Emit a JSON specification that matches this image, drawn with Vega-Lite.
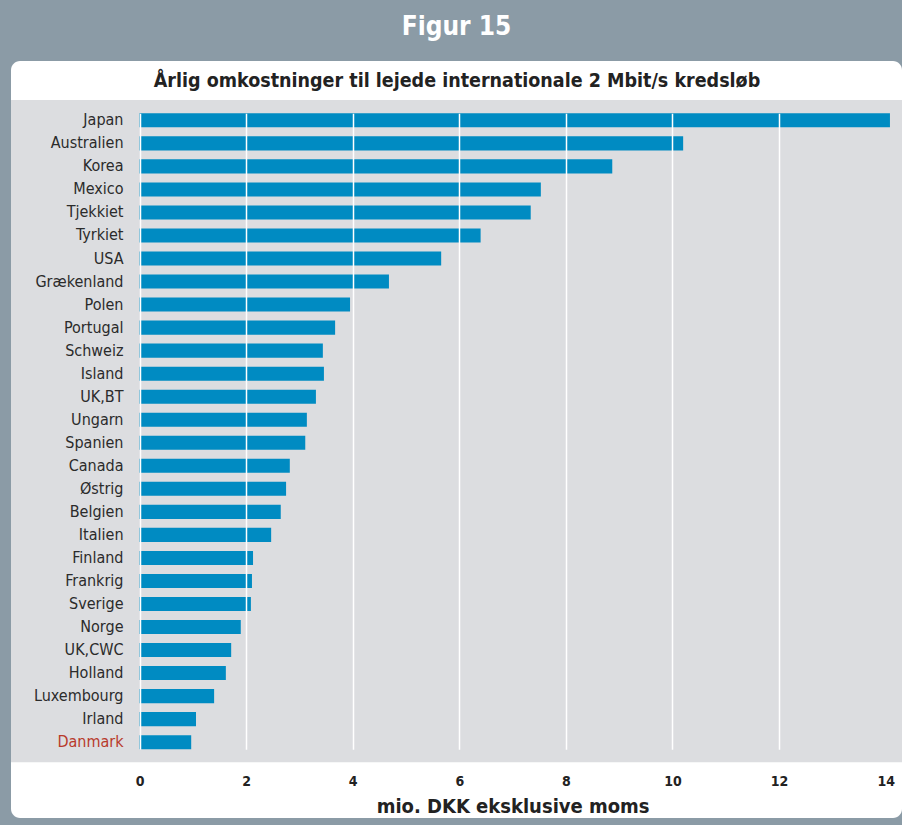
{
  "$schema": "https://vega.github.io/schema/vega-lite/v6.json",
  "width": 891,
  "height": 757,
  "autosize": {"type": "none"},
  "padding": {"left": 11, "top": 61, "right": 0, "bottom": 7},
  "background": "#8b9ba6",
  "config": {
    "view": {"fill": "white", "stroke": null, "cornerRadius": 9},
    "font": "Liberation Sans Narrow, DejaVu Sans Condensed, sans-serif"
  },
  "title": {
    "text": "Figur 15",
    "color": "white",
    "fontSize": 26,
    "fontWeight": "bold",
    "font": "Liberation Sans Narrow, DejaVu Sans Condensed, sans-serif",
    "anchor": "middle",
    "baseline": "alphabetic",
    "offset": 0
  },
  "datasets": {
    "costs": [
      {"country": "Japan", "value": 14.08},
      {"country": "Australien", "value": 10.2},
      {"country": "Korea", "value": 8.87},
      {"country": "Mexico", "value": 7.53},
      {"country": "Tjekkiet", "value": 7.34},
      {"country": "Tyrkiet", "value": 6.4},
      {"country": "USA", "value": 5.66},
      {"country": "Grækenland", "value": 4.68},
      {"country": "Polen", "value": 3.95},
      {"country": "Portugal", "value": 3.67},
      {"country": "Schweiz", "value": 3.44},
      {"country": "Island", "value": 3.46},
      {"country": "UK,BT", "value": 3.31},
      {"country": "Ungarn", "value": 3.14},
      {"country": "Spanien", "value": 3.11},
      {"country": "Canada", "value": 2.82},
      {"country": "Østrig", "value": 2.75},
      {"country": "Belgien", "value": 2.65},
      {"country": "Italien", "value": 2.47},
      {"country": "Finland", "value": 2.13},
      {"country": "Frankrig", "value": 2.11},
      {"country": "Sverige", "value": 2.09},
      {"country": "Norge", "value": 1.9},
      {"country": "UK,CWC", "value": 1.72},
      {"country": "Holland", "value": 1.62},
      {"country": "Luxembourg", "value": 1.4},
      {"country": "Irland", "value": 1.06},
      {"country": "Danmark", "value": 0.97}
    ]
  },
  "layer": [
    {
      "data": {"values": [{"panel": 1}]},
      "mark": {"type": "rect", "color": "#dcdde0", "yOffset": -20.3, "y2Offset": 20},
      "encoding": {
        "x": {
          "datum": -2.411,
          "type": "quantitative",
          "scale": {"domain": [-2.411, 14.306], "nice": false, "zero": false},
          "axis": {
            "orient": "top",
            "offset": -32,
            "values": [0, 2, 4, 6, 8, 10, 12],
            "grid": true,
            "gridColor": "white",
            "gridWidth": 1.5,
            "gridOpacity": 1,
            "labels": false,
            "ticks": false,
            "domain": false,
            "title": "Årlig omkostninger til lejede internationale 2 Mbit/s kredsløb",
            "titleFontSize": 19.5,
            "titleFontWeight": "bold",
            "titleColor": "#222222",
            "titlePadding": 3,
            "zindex": 1
          }
        },
        "x2": {"datum": 14.306},
        "y": {
          "datum": "Japan",
          "type": "nominal",
          "scale": {
            "type": "band",
            "domain": ["Japan", "Australien", "Korea", "Mexico", "Tjekkiet", "Tyrkiet", "USA", "Grækenland", "Polen", "Portugal", "Schweiz", "Island", "UK,BT", "Ungarn", "Spanien", "Canada", "Østrig", "Belgien", "Italien", "Finland", "Frankrig", "Sverige", "Norge", "UK,CWC", "Holland", "Luxembourg", "Irland", "Danmark"],
            "range": [52.3, 688.2],
            "paddingInner": 0.39,
            "paddingOuter": 0
          },
          "axis": {
            "title": null,
            "orient": "left",
            "offset": -112,
            "domain": false,
            "ticks": false,
            "grid": false,
            "labelPadding": 0,
            "labelFontSize": 16,
            "labelColor": {"condition": {"test": "datum.value === 'Danmark'", "value": "#b83a2b"}, "value": "#2b2b2b"},
            "zindex": 2
          }
        },
        "y2": {"datum": "Danmark"}
      }
    },
    {
      "data": {"name": "costs"},
      "mark": {"type": "bar", "color": "#008bc2"},
      "encoding": {
        "y": {
          "field": "country",
          "type": "nominal",
          "sort": null,
          "scale": {
            "type": "band",
            "domain": ["Japan", "Australien", "Korea", "Mexico", "Tjekkiet", "Tyrkiet", "USA", "Grækenland", "Polen", "Portugal", "Schweiz", "Island", "UK,BT", "Ungarn", "Spanien", "Canada", "Østrig", "Belgien", "Italien", "Finland", "Frankrig", "Sverige", "Norge", "UK,CWC", "Holland", "Luxembourg", "Irland", "Danmark"],
            "range": [52.3, 688.2],
            "paddingInner": 0.39,
            "paddingOuter": 0
          },
          "axis": {
            "title": null,
            "orient": "left",
            "offset": -112,
            "domain": false,
            "ticks": false,
            "grid": false,
            "labelPadding": 0,
            "labelFontSize": 16,
            "labelColor": {"condition": {"test": "datum.value === 'Danmark'", "value": "#b83a2b"}, "value": "#2b2b2b"},
            "zindex": 2
          }
        },
        "x": {
          "field": "value",
          "type": "quantitative",
          "scale": {"domain": [-2.411, 14.306], "nice": false, "zero": false},
          "axis": {
            "orient": "bottom",
            "offset": -48,
            "values": [0, 2, 4, 6, 8, 10, 12, 14],
            "grid": false,
            "domain": false,
            "ticks": false,
            "labelPadding": 4,
            "labelFontSize": 14,
            "labelFontWeight": "bold",
            "labelColor": "#222222",
            "labelFlush": false,
            "title": "mio. DKK eksklusive moms",
            "titleFontSize": 20,
            "titleFontWeight": "bold",
            "titleColor": "#222222",
            "titlePadding": 8,
            "titleX": 501.6,
            "zindex": 2
          }
        },
        "x2": {"datum": 0}
      }
    }
  ],
  "resolve": {"axis": {"x": "independent"}}
}
